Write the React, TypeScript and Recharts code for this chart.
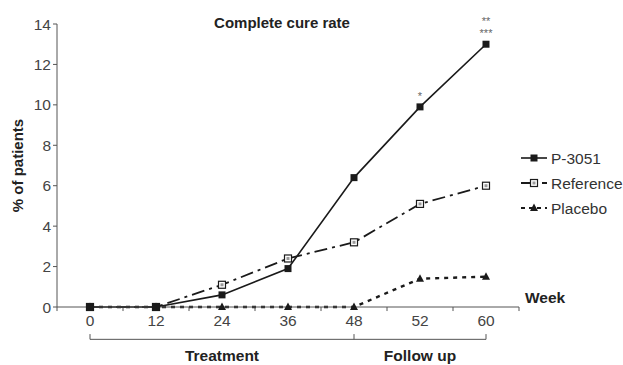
import React from 'react';
import { LineChart, Line, XAxis, YAxis, ReferenceLine, ReferenceDot, LabelList, Label } from 'recharts';

const weeks = ['0', '12', '24', '36', '48', '52', '60'];
const p3051 = [0, 0, 0.6, 1.9, 6.4, 9.9, 13.0];
const reference = [0, 0, 1.1, 2.4, 3.2, 5.1, 6.0];
const placebo = [0, 0, 0, 0, 0, 1.4, 1.5];
const significance = ['', '', '', '', '', '*', '**\n***'];
const yTicks = [0, 2, 4, 6, 8, 10, 12, 14];
const periods = [
  { name: 'Treatment', from: 0, to: 4 },
  { name: 'Follow up', from: 4, to: 6 },
];

const data = weeks.map((w, i) => ({
  idx: i,
  week: w,
  p3051: p3051[i],
  reference: reference[i],
  placebo: placebo[i],
  sig: significance[i],
}));

const INK = '#1a1a1a';
const AXIS = '#555';
const FONT = '"Liberation Sans", Arial, sans-serif';

const SquareDot = (props: any) => {
  const { cx, cy } = props;
  if (cx == null || cy == null) return null;
  return <rect x={cx - 3.5} y={cy - 3.5} width={7} height={7} fill={INK} />;
};
const HollowSquareDot = (props: any) => {
  const { cx, cy } = props;
  if (cx == null || cy == null) return null;
  return (
    <g>
      <rect x={cx - 3.5} y={cy - 3.5} width={7} height={7} fill="#fff" stroke={INK} strokeWidth={1.2} />
      <rect x={cx - 1.5} y={cy - 1.5} width={3} height={3} fill="#999" />
    </g>
  );
};
const TriangleDot = (props: any) => {
  const { cx, cy } = props;
  if (cx == null || cy == null) return null;
  return <path d={`M${cx},${cy - 4.5} L${cx + 4},${cy + 3} L${cx - 4},${cy + 3} Z`} fill={INK} />;
};

const SigLabel = (props: any) => {
  const { x, y, value } = props;
  if (!value) return null;
  const lines = String(value).split('\n');
  return (
    <g>
      {lines.map((l, k) => (
        <text
          key={k}
          x={x}
          y={y - 7 - (lines.length - 1 - k) * 12}
          textAnchor="middle"
          fontSize={11}
          fill="#666"
          fontFamily={FONT}
        >
          {l}
        </text>
      ))}
    </g>
  );
};

const legendItems = [
  { name: 'P-3051', dash: undefined as string | undefined, width: 1.6, dot: 'square' },
  { name: 'Reference', dash: '10 4 3 4', width: 1.8, dot: 'hollow' },
  { name: 'Placebo', dash: '4 4', width: 2.2, dot: 'triangle' },
];

const LegendBox = () => (
  <svg width={110} height={80} style={{ position: 'absolute', left: 518, top: 146 }}>
    {legendItems.map((it, i) => {
      const cy = 12 + i * 25;
      return (
        <g key={it.name}>
          <line x1={3} x2={29} y1={cy} y2={cy} stroke={INK} strokeWidth={it.width} strokeDasharray={it.dash} />
          {it.dot === 'square' && <SquareDot cx={16} cy={cy} />}
          {it.dot === 'hollow' && <HollowSquareDot cx={16} cy={cy} />}
          {it.dot === 'triangle' && <TriangleDot cx={16} cy={cy} />}
          <text x={33} y={cy + 5.5} fontSize={15.5} fill="#333" fontFamily={FONT}>
            {it.name}
          </text>
        </g>
      );
    })}
  </svg>
);

export default function App() {
  const boundaries = [-0.5, 0.5, 1.5, 2.5, 3.5, 4.5, 5.5, 6.5];
  const bracketY = -1.6;
  const bracketTickY = -1.34;
  const periodLabelY = -2.4;
  return (
    <div style={{ position: 'absolute', left: 0, top: 0, width: 623, height: 365, background: '#fff' }}>
      <div
        style={{
          position: 'absolute',
          left: 182,
          top: 14,
          width: 200,
          textAlign: 'center',
          fontFamily: FONT,
          fontWeight: 'bold',
          fontSize: 15,
          color: '#222',
        }}
      >
        Complete cure rate
      </div>
      <LineChart
        width={623}
        height={365}
        data={data}
        margin={{ top: 24, right: 104, left: 0, bottom: 28 }}
        style={{ fontFamily: FONT }}
      >
        <XAxis
          dataKey="idx"
          type="number"
          domain={[-0.5, 6.5]}
          ticks={[0, 1, 2, 3, 4, 5, 6]}
          tickFormatter={(v: number) => weeks[v]}
          tickLine={false}
          tickSize={6}
          height={30}
          stroke={AXIS}
          tick={{ fill: '#444', fontSize: 15.5, fontFamily: FONT }}
          allowDataOverflow
        />
        <YAxis
          type="number"
          domain={[0, 14]}
          ticks={yTicks}
          width={57}
          tickSize={4}
          stroke={AXIS}
          tick={{ fill: '#444', fontSize: 15.5, fontFamily: FONT }}
          interval={0}
        >
          <Label
            content={(p: any) => {
              const vb = p.viewBox || {};
              const cx = (vb.x ?? 0) + 17;
              const cy = (vb.y ?? 0) + (vb.height ?? 0) / 2;
              return (
                <text
                  x={cx}
                  y={cy}
                  transform={`rotate(-90 ${cx} ${cy})`}
                  textAnchor="middle"
                  dominantBaseline="central"
                  fontSize={15}
                  fontWeight="bold"
                  fill="#222"
                  fontFamily={FONT}
                >
                  % of patients
                </text>
              );
            }}
          />
        </YAxis>
        {boundaries.map((b) => (
          <ReferenceLine
            key={'tk' + b}
            segment={[{ x: b, y: 0 }, { x: b, y: -0.2 }]}
            stroke={AXIS}
            strokeWidth={1}
            ifOverflow="visible"
          />
        ))}
        <ReferenceLine
          segment={[{ x: 0, y: bracketY }, { x: 6, y: bracketY }]}
          stroke={AXIS}
          strokeWidth={1}
          ifOverflow="visible"
        />
        {[0, 4, 6].map((b) => (
          <ReferenceLine
            key={'bk' + b}
            segment={[{ x: b, y: bracketY }, { x: b, y: bracketTickY }]}
            stroke={AXIS}
            strokeWidth={1}
            ifOverflow="visible"
          />
        ))}
        {periods.map((p) => (
          <ReferenceDot
            key={p.name}
            x={(p.from + p.to) / 2}
            y={periodLabelY}
            r={0}
            fill="none"
            stroke="none"
            ifOverflow="visible"
          >
            <Label
              content={(lp: any) => {
                const vb = lp.viewBox || {};
                const x = (vb.cx ?? vb.x ?? 0) + (vb.width ? vb.width / 2 : 0);
                const y = (vb.cy ?? vb.y ?? 0) + (vb.height ? vb.height / 2 : 0);
                return (
                  <text x={x} y={y} textAnchor="middle" dominantBaseline="central" fontSize={15.5} fontWeight="bold" fill="#222" fontFamily={FONT}>
                    {p.name}
                  </text>
                );
              }}
            />
          </ReferenceDot>
        ))}
        <ReferenceDot x={6.5} y={0.45} r={0} fill="none" stroke="none" ifOverflow="visible">
          <Label
            content={(lp: any) => {
              const vb = lp.viewBox || {};
              const x = (vb.cx ?? vb.x ?? 0) + (vb.width ? vb.width / 2 : 0);
              const y = (vb.cy ?? vb.y ?? 0) + (vb.height ? vb.height / 2 : 0);
              return (
                <text x={x + 6} y={y} textAnchor="start" dominantBaseline="central" fontSize={15.5} fontWeight="bold" fill="#222" fontFamily={FONT}>
                  Week
                </text>
              );
            }}
          />
        </ReferenceDot>
        <Line
          dataKey="placebo"
          stroke={INK}
          strokeWidth={2.4}
          strokeDasharray="4 5"
          dot={<TriangleDot />}
          isAnimationActive={false}
          type="linear"
        />
        <Line
          dataKey="reference"
          stroke={INK}
          strokeWidth={1.8}
          strokeDasharray="13 5 3 5"
          dot={<HollowSquareDot />}
          isAnimationActive={false}
          type="linear"
        />
        <Line
          dataKey="p3051"
          stroke={INK}
          strokeWidth={1.6}
          dot={<SquareDot />}
          isAnimationActive={false}
          type="linear"
        >
          <LabelList dataKey="sig" content={<SigLabel />} />
        </Line>
      </LineChart>
      <LegendBox />
    </div>
  );
}
